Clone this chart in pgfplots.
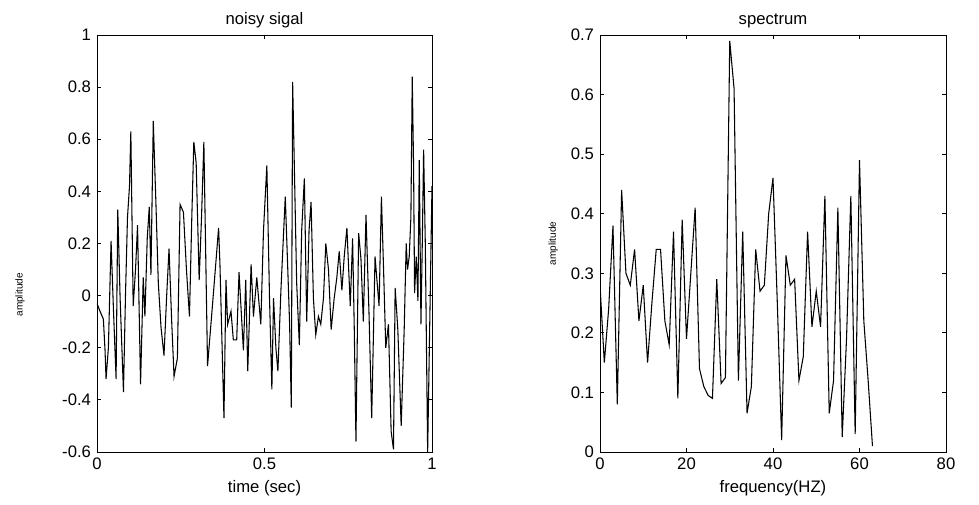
\documentclass[border=0pt]{standalone}
\usepackage{pgfplots}
\pgfplotsset{compat=1.18}
\usepackage{fontspec}
\setmainfont{Liberation Sans}

\pgfplotstableread{
t v
0.000 -0.03
0.009 -0.06
0.019 -0.09
0.024 -0.21
0.027 -0.32
0.034 -0.20
0.042 0.21
0.049 -0.05
0.057 -0.32
0.062 0.33
0.069 -0.01
0.079 -0.37
0.085 0.00
0.091 0.30
0.097 0.42
0.101 0.63
0.108 -0.04
0.115 0.10
0.121 0.27
0.130 -0.34
0.138 0.07
0.143 -0.08
0.150 0.22
0.156 0.34
0.161 0.08
0.168 0.67
0.176 0.35
0.183 0.05
0.191 -0.12
0.200 -0.23
0.208 0.00
0.215 0.18
0.223 -0.10
0.230 -0.31
0.240 -0.24
0.248 0.35
0.258 0.32
0.267 0.10
0.276 -0.08
0.283 0.30
0.289 0.59
0.296 0.51
0.305 0.06
0.312 0.30
0.319 0.59
0.330 -0.27
0.347 0.00
0.363 0.26
0.367 0.12
0.379 -0.47
0.385 0.06
0.390 -0.11
0.400 -0.06
0.407 -0.17
0.417 -0.17
0.424 0.09
0.437 -0.21
0.444 0.06
0.450 -0.29
0.460 0.12
0.467 -0.08
0.477 0.07
0.489 -0.11
0.497 0.25
0.507 0.50
0.515 -0.01
0.522 -0.36
0.527 -0.01
0.534 -0.20
0.540 -0.29
0.549 0.02
0.562 0.38
0.569 0.12
0.575 -0.11
0.580 -0.43
0.584 0.82
0.589 0.50
0.596 0.05
0.604 -0.19
0.611 0.25
0.619 0.45
0.626 -0.10
0.633 0.25
0.639 0.36
0.646 -0.01
0.653 -0.15
0.661 -0.08
0.668 -0.11
0.676 -0.01
0.683 0.20
0.691 0.10
0.699 -0.13
0.708 -0.01
0.716 0.07
0.723 0.17
0.731 0.02
0.738 0.15
0.746 0.26
0.756 -0.04
0.763 0.22
0.768 -0.13
0.773 -0.56
0.781 0.24
0.788 0.14
0.795 -0.10
0.803 0.31
0.812 -0.07
0.820 -0.47
0.830 0.15
0.835 0.07
0.842 -0.04
0.849 0.38
0.855 0.12
0.862 -0.20
0.870 -0.11
0.878 -0.52
0.885 -0.59
0.890 0.03
0.898 -0.13
0.908 -0.50
0.917 -0.13
0.923 0.20
0.927 0.10
0.932 0.15
0.937 0.30
0.941 0.84
0.945 0.50
0.948 0.01
0.953 0.15
0.958 -0.02
0.962 0.52
0.967 -0.11
0.971 0.20
0.975 0.56
0.980 0.20
0.987 -0.60
1.000 0.42
}\signal

\pgfplotstableread{
f v
0 0.28
1 0.15
2 0.24
3 0.38
4 0.08
5 0.44
6 0.30
7 0.28
8 0.34
9 0.22
10 0.28
11 0.15
12 0.25
13 0.34
14 0.34
15 0.22
16 0.18
17 0.37
18 0.09
19 0.39
20 0.19
21 0.30
22 0.41
23 0.14
24 0.11
25 0.095
26 0.09
27 0.29
28 0.115
29 0.125
30 0.69
31 0.61
32 0.12
33 0.37
34 0.065
35 0.11
36 0.34
37 0.27
38 0.28
39 0.40
40 0.46
41 0.25
42 0.02
43 0.33
44 0.28
45 0.29
46 0.12
47 0.16
48 0.37
49 0.21
50 0.27
51 0.21
52 0.43
53 0.065
54 0.12
55 0.41
56 0.025
57 0.19
58 0.43
59 0.03
60 0.49
61 0.22
62 0.12
63 0.01
}\spectrum

\begin{document}
\begin{tikzpicture}
\useasboundingbox (0pt,0pt) rectangle (734.25pt,378pt);
\pgfplotsset{
  mystyle/.style={
    scale only axis,
    anchor=south west,
    height=312.75pt,
    axis line style={line width=0.7pt},
    every tick/.style={black,line width=0.6pt},
    major tick length=3pt,
    tick align=inside,
    tick pos=both,
    tick label style={font=\fontsize{12.5}{14}\selectfont},
    yticklabel style={xshift=-1pt},
    xticklabel style={yshift=-1pt},
    /pgf/number format/assume math mode=true,
    /pgf/number format/fixed,
    /pgf/number format/precision=2,
    title style={font=\fontsize{12.5}{14}\selectfont, yshift=-4pt},
    xlabel style={font=\fontsize{12.5}{14}\selectfont, yshift=-1pt},
    every axis y label/.style={rotate=90,anchor=center,font=\fontsize{7.5}{8}\selectfont},
    scaled ticks=false,
  }
}
\begin{axis}[mystyle,
  at={(72.75pt,39pt)}, width=251.25pt,
  xmin=0, xmax=1, ymin=-0.6, ymax=1,
  xtick={0,0.5,1},
  ytick={-0.6,-0.4,-0.2,0,0.2,0.4,0.6,0.8,1},
  title={noisy sigal},
  xlabel={time (sec)},
  ylabel={amplitude},
  y label style={at={(axis description cs:-0.23,0.377)}},
]
\addplot[black, line width=0.8pt, mark=none] table[x=t,y=v] {\signal};
\end{axis}
\begin{axis}[mystyle,
  at={(450pt,39pt)}, width=259.5pt,
  xmin=0, xmax=80, ymin=0, ymax=0.7,
  xtick={0,20,40,60,80},
  ytick={0,0.1,0.2,0.3,0.4,0.5,0.6,0.7},
  title={spectrum},
  xlabel={frequency(HZ)},
  ylabel={amplitude},
  y label style={at={(axis description cs:-0.135,0.5)}},
]
\addplot[black, line width=0.8pt, mark=none] table[x=f,y=v] {\spectrum};
\end{axis}
\end{tikzpicture}
\end{document}
